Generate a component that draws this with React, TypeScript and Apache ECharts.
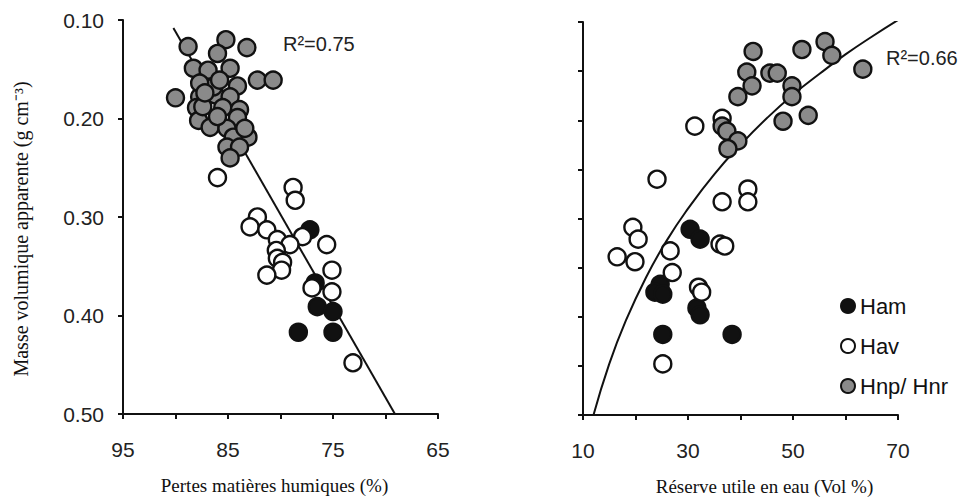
import React, { useEffect, useRef } from 'react';
import * as echarts from 'echarts';

// Tick labels shown on each axis (other ticks stay unlabelled)
const leftXTickLabels = [95, 85, 75, 65];
const leftYTickLabels = [0.1, 0.2, 0.3, 0.4, 0.5];
const rightXTickLabels = [10, 30, 50, 70];

// Left panel: humic matter loss (%) vs bulk density (g cm-3)
const leftHam = [
  [77.2, 0.313], [76.7, 0.367], [76.5, 0.391], [75.0, 0.396], [78.3, 0.417], [75.0, 0.417],
];
const leftHav = [
  [86.0, 0.26], [78.8, 0.27], [78.6, 0.283], [82.2, 0.3], [82.9, 0.31], [81.3, 0.313],
  [77.9, 0.32], [80.3, 0.323], [79.1, 0.328], [75.6, 0.328], [80.4, 0.334], [80.3, 0.342],
  [79.8, 0.346], [79.9, 0.354], [81.3, 0.359], [75.1, 0.354], [77.0, 0.372], [75.1, 0.376],
  [73.1, 0.448],
];
const leftHnp = [
  [88.8, 0.127], [85.2, 0.12], [83.2, 0.128], [86.0, 0.134], [88.3, 0.149], [86.9, 0.151],
  [84.8, 0.149], [82.2, 0.161], [80.7, 0.161], [84.1, 0.167], [90.0, 0.179], [87.7, 0.178],
  [86.2, 0.176], [84.8, 0.178], [88.0, 0.189], [85.5, 0.189], [83.9, 0.191], [87.8, 0.202],
  [86.7, 0.209], [84.1, 0.199], [85.1, 0.21], [83.1, 0.219], [84.5, 0.219], [83.4, 0.21],
  [85.1, 0.229], [83.9, 0.229], [84.8, 0.24], [86.4, 0.168], [85.8, 0.161], [87.4, 0.188],
  [87.7, 0.164], [87.2, 0.174], [86.0, 0.198],
];
const leftFit = [[90.2, 0.108], [69.1, 0.5]];

// Right panel: available water capacity (Vol %) vs bulk density (g cm-3)
const rightHam = [
  [30.4, 0.311], [32.3, 0.321], [24.7, 0.367], [23.7, 0.375], [25.2, 0.377],
  [31.7, 0.391], [32.3, 0.398], [25.2, 0.418], [38.4, 0.418],
];
const rightHav = [
  [36.5, 0.198], [31.3, 0.206], [24.1, 0.26], [41.4, 0.27], [36.5, 0.283], [41.4, 0.283],
  [19.5, 0.309], [20.5, 0.321], [36.1, 0.326], [37.0, 0.328], [26.6, 0.333], [16.5, 0.339],
  [19.9, 0.344], [27.0, 0.355], [32.0, 0.37], [32.6, 0.375], [25.2, 0.448],
];
const rightHnp = [
  [42.4, 0.13], [51.7, 0.128], [56.1, 0.12], [57.4, 0.134], [63.3, 0.148], [41.2, 0.151],
  [42.2, 0.165], [39.5, 0.176], [45.6, 0.152], [47.0, 0.152], [49.8, 0.165], [49.8, 0.176],
  [48.1, 0.201], [52.9, 0.195], [36.5, 0.206], [37.4, 0.211], [39.5, 0.221], [37.6, 0.229],
];
const rightFit = [
  [12, 0.5], [15, 0.448], [18, 0.406], [22, 0.36], [26, 0.322], [30, 0.29], [35, 0.255],
  [40, 0.225], [45, 0.198], [50, 0.174], [55, 0.153], [60, 0.133], [65, 0.115], [70, 0.098],
];

const INK = '#111';
const SANS = "'Liberation Sans', Arial, sans-serif";
const SERIF = "'Liberation Serif', 'Times New Roman', serif";

const axisLine = { onZero: false, lineStyle: { color: INK, width: 2 } };
const axisTick = { length: 5, lineStyle: { color: INK, width: 2 } };

const hasTick = (list: number[], v: number) => list.some((t) => Math.abs(t - v) < 1e-6);

const markerStyles = {
  Ham: { color: INK, borderColor: INK, borderWidth: 2.4, opacity: 1 },
  Hav: { color: '#ffffff', borderColor: INK, borderWidth: 2.4, opacity: 1 },
  'Hnp/ Hnr': { color: '#8a8a8a', borderColor: INK, borderWidth: 2.4, opacity: 1 },
};

function scatter(name: keyof typeof markerStyles, data: number[][], idx: number) {
  return {
    type: 'scatter',
    name,
    xAxisIndex: idx,
    yAxisIndex: idx,
    data,
    symbol: 'circle',
    symbolSize: 17,
    itemStyle: markerStyles[name],
    z: 3,
  };
}

export default function App() {
  const ref = useRef<HTMLDivElement>(null);

  useEffect(() => {
    document.body.style.margin = '0';
    const chart = echarts.init(ref.current!, null, { renderer: 'svg' });
    chart.setOption({
      animation: false,
      backgroundColor: '#ffffff',
      grid: [
        { left: 123, top: 20, width: 315, height: 394 },
        { left: 583, top: 22, width: 315, height: 399 },
      ],
      xAxis: [
        {
          type: 'value',
          gridIndex: 0,
          min: 65,
          max: 95,
          interval: 5,
          inverse: true,
          axisLine,
          axisTick,
          splitLine: { show: false },
          axisLabel: {
            formatter: (v: number) => (hasTick(leftXTickLabels, v) ? String(v) : ''),
            fontSize: 21,
            fontFamily: SANS,
            color: '#222',
            margin: 25,
          },
          name: 'Pertes matières humiques (%)',
          nameLocation: 'middle',
          nameGap: 62,
          nameTextStyle: { fontFamily: SERIF, fontSize: 19, color: INK, padding: [0, 12, 0, 0] },
        },
        {
          type: 'value',
          gridIndex: 1,
          min: 10,
          max: 70,
          interval: 10,
          axisLine,
          axisTick,
          splitLine: { show: false },
          axisLabel: {
            formatter: (v: number) => (hasTick(rightXTickLabels, v) ? String(v) : ''),
            fontSize: 21,
            fontFamily: SANS,
            color: '#222',
            margin: 25,
          },
          name: 'Réserve utile en eau (Vol %)',
          nameLocation: 'middle',
          nameGap: 62,
          nameTextStyle: { fontFamily: SERIF, fontSize: 19, color: INK, padding: [0, 0, 0, 48] },
        },
      ],
      yAxis: [
        {
          type: 'value',
          gridIndex: 0,
          min: 0.1,
          max: 0.5,
          interval: 0.1,
          inverse: true,
          axisLine,
          axisTick,
          splitLine: { show: false },
          axisLabel: {
            formatter: (v: number) => (hasTick(leftYTickLabels, v) ? v.toFixed(2) : ''),
            fontSize: 21,
            fontFamily: SANS,
            color: '#222',
            margin: 19,
          },
          name: 'Masse volumique apparente (g cm⁻³)',
          nameLocation: 'middle',
          nameRotate: 90,
          nameGap: 92,
          nameTextStyle: { fontFamily: SERIF, fontSize: 20, color: INK, padding: [0, 24, 0, 0] },
        },
        {
          type: 'value',
          gridIndex: 1,
          min: 0.1,
          max: 0.5,
          interval: 0.05,
          inverse: true,
          axisLine,
          axisTick,
          splitLine: { show: false },
          axisLabel: { show: false },
        },
      ],
      legend: {
        data: ['Ham', 'Hav', 'Hnp/ Hnr'],
        orient: 'vertical',
        left: 835,
        top: 290,
        itemWidth: 14,
        itemHeight: 14,
        itemGap: 18,
        icon: 'circle',
        textStyle: { fontSize: 22, fontFamily: SANS, color: INK },
      },
      graphic: [
        {
          type: 'text',
          left: 283,
          top: 34,
          style: { text: 'R²=0.75', fontSize: 20, fontFamily: SANS, fill: '#222' },
        },
        {
          type: 'text',
          left: 886,
          top: 48,
          style: { text: 'R²=0.66', fontSize: 20, fontFamily: SANS, fill: '#222' },
        },
      ],
      series: [
        {
          type: 'line',
          xAxisIndex: 0,
          yAxisIndex: 0,
          data: leftFit,
          symbol: 'none',
          lineStyle: { color: INK, width: 2 },
          silent: true,
          z: 1,
        },
        {
          type: 'line',
          xAxisIndex: 1,
          yAxisIndex: 1,
          data: rightFit,
          symbol: 'none',
          smooth: true,
          lineStyle: { color: INK, width: 2 },
          silent: true,
          z: 1,
        },
        scatter('Ham', leftHam, 0),
        scatter('Hav', leftHav, 0),
        scatter('Hnp/ Hnr', leftHnp, 0),
        scatter('Ham', rightHam, 1),
        scatter('Hav', rightHav, 1),
        scatter('Hnp/ Hnr', rightHnp, 1),
      ],
    });
    return () => chart.dispose();
  }, []);

  return <div ref={ref} style={{ width: 967, height: 501 }} />;
}
